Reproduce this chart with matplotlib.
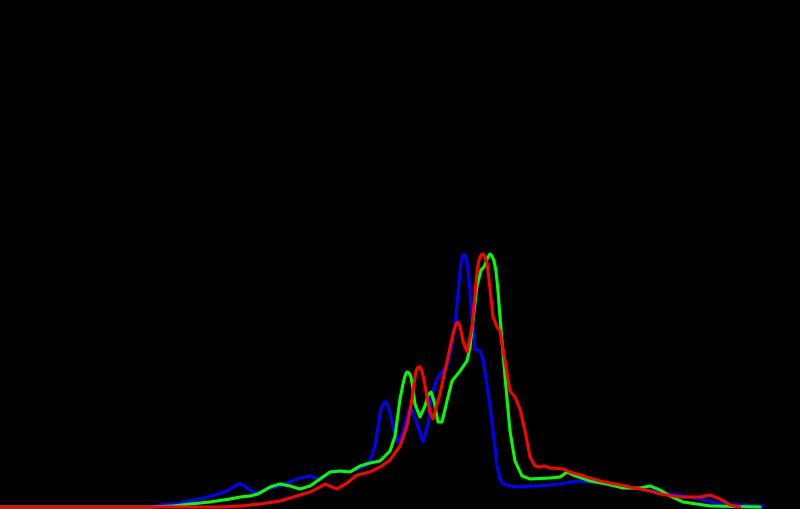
import matplotlib
matplotlib.use("Agg")
import matplotlib.pyplot as plt

# Histogram curves: level position (0-800 scale), height (0-510 scale, from top)
blue_x = [0, 150, 160, 180, 200, 215, 225, 232, 238, 243, 250, 255, 260, 270, 280, 290, 300, 310, 320, 327,
          333, 345, 355, 360, 365, 370, 375, 378, 381, 383, 385, 387, 389, 392, 395, 398, 403, 408, 412, 417,
          423, 428, 432, 437, 442, 447, 452, 455, 457, 459, 461, 463, 465, 467, 469, 471, 473, 475, 480, 483,
          486, 490, 494, 497, 500, 503, 510, 517, 533, 550, 560, 577, 590, 600, 620, 640, 657, 670, 683, 700,
          720, 740, 763]
blue_y = [508, 508, 506, 504, 500, 496, 493, 489, 485, 486, 491, 494, 493, 489, 487, 483, 479, 477, 481, 476,
          472, 473, 471, 469, 467, 462, 447, 428, 410, 405, 403, 405, 410, 422, 437, 443, 433, 413, 410, 425,
          443, 425, 395, 380, 373, 367, 345, 325, 305, 283, 264, 256, 256, 263, 280, 305, 330, 350, 352, 360,
          380, 407, 440, 467, 480, 485, 487, 488, 487, 486, 485, 482, 483, 484, 488, 490, 492, 495, 497, 500,
          505, 506, 507]

green_x = [0, 150, 173, 190, 210, 230, 240, 250, 258, 265, 270, 280, 290, 300, 310, 320, 330, 340, 350, 360,
           370, 380, 390, 395, 400, 403, 405, 407, 409, 411, 413, 415, 420, 425, 428, 431, 434, 438, 442, 447,
           452, 460, 467, 470, 473, 477, 481, 484, 486, 488, 490, 492, 494, 496, 498, 500, 505, 510, 515, 522,
           530, 550, 560, 567, 573, 590, 607, 623, 640, 650, 660, 670, 683, 710, 760]
green_y = [508, 508, 507, 505, 503, 500, 498, 497, 495, 491, 488, 485, 487, 490, 487, 480, 473, 472, 473, 467,
           464, 462, 452, 437, 400, 385, 377, 373, 374, 378, 390, 405, 418, 407, 396, 393, 402, 423, 423, 402,
           382, 372, 362, 348, 322, 287, 271, 268, 263, 258, 255, 257, 262, 272, 292, 318, 378, 432, 462, 477,
           480, 479, 478, 473, 476, 482, 485, 489, 489, 487, 491, 497, 503, 507, 508]

red_x = [0, 200, 220, 240, 260, 280, 300, 310, 320, 325, 330, 337, 347, 357, 370, 380, 390, 400, 407, 412,
         414, 416, 418, 420, 422, 424, 427, 430, 433, 437, 440, 448, 453, 456, 458, 460, 463, 467, 472, 475,
         477, 479, 481, 483, 485, 487, 490, 493, 497, 500, 505, 510, 515, 520, 525, 530, 535, 540, 545, 550,
         563, 570, 577, 590, 600, 610, 630, 650, 660, 680, 700, 710, 720, 730, 740]
red_y = [508, 508, 508, 507, 505, 502, 496, 493, 488, 485, 487, 490, 484, 476, 473, 468, 461, 447, 427, 400,
         385, 372, 368, 368, 372, 381, 398, 413, 420, 405, 395, 358, 335, 325, 323, 327, 342, 353, 328, 295,
         273, 261, 256, 255, 258, 264, 290, 318, 328, 332, 362, 392, 398, 410, 432, 458, 467, 468, 467, 469,
         470, 473, 475, 479, 482, 484, 488, 492, 495, 498, 498, 496, 500, 506, 508]

H = 510
fig = plt.figure(figsize=(8, 5.1), dpi=100)
fig.patch.set_facecolor("black")
ax = fig.add_axes([0, 0, 1, 1])
ax.set_facecolor("black")
ax.set_xlim(0, 800)
ax.set_ylim(0, H)
ax.axis("off")

lw = 2.2
for xs, ys, c in [(blue_x, blue_y, "#0000ff"), (green_x, green_y, "#00ff00"), (red_x, red_y, "#ff0000")]:
    ax.plot(xs, [H - v for v in ys], color=c, linewidth=lw, solid_joinstyle="round", solid_capstyle="round")

fig.savefig("out.png", dpi=100, facecolor="black")
